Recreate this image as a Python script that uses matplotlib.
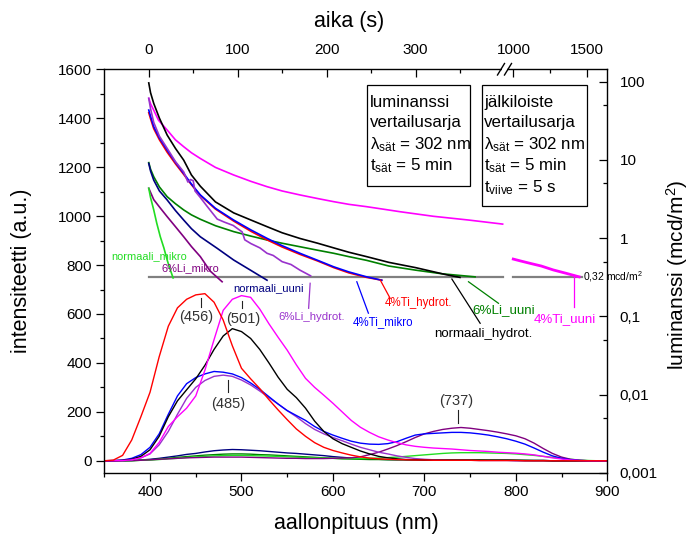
import numpy as np
import matplotlib
matplotlib.use("Agg")
import matplotlib.pyplot as plt
from matplotlib.patches import Rectangle
from matplotlib.lines import Line2D
from matplotlib.ticker import FixedLocator, NullFormatter

plt.rcParams['font.family'] = ['Liberation Sans', 'DejaVu Sans']
plt.rcParams['mathtext.fontset'] = 'custom'
plt.rcParams['mathtext.rm'] = 'Liberation Sans'
plt.rcParams['mathtext.it'] = 'Liberation Sans:italic'
plt.rcParams['mathtext.bf'] = 'Liberation Sans:bold'

# ---------------- emission spectra (intensity, a.u.) ----------------
wavelength = list(range(350, 901, 10))

spec_4ti_hydrot = [0, 3, 22, 85, 180, 280, 425, 550, 625, 660, 678, 683, 648, 575, 470, 378, 335, 295, 250, 208,
                   168, 130, 100, 74, 55, 42, 32, 23, 16, 11, 8, 6, 5, 4, 3, 3, 2, 2, 2, 2,
                   2, 1, 1, 1, 1, 1, 0, 0, 0, 0, 0, 0, 0, 0, 0, 0]
spec_4ti_uuni = [0, 0, 1, 4, 12, 30, 75, 140, 180, 215, 265, 370, 495, 615, 660, 675, 668, 620, 560, 505,
                 452, 392, 337, 300, 268, 235, 200, 165, 137, 116, 98, 85, 74, 65, 59, 55, 52, 50, 48, 45,
                 42, 40, 38, 35, 33, 31, 28, 24, 18, 12, 7, 3, 1, 0, 0, 0]
spec_norm_hydrot = [0, 0, 2, 6, 18, 45, 100, 180, 245, 290, 335, 390, 455, 510, 540, 528, 500, 455, 400, 342,
                    292, 258, 215, 162, 120, 90, 70, 55, 40, 28, 18, 12, 8, 5, 4, 3, 2, 2, 2, 2,
                    2, 2, 2, 2, 2, 2, 1, 1, 1, 0, 0, 0, 0, 0, 0, 0]
spec_4ti_mikro = [0, 1, 3, 10, 25, 55, 110, 190, 265, 315, 340, 355, 365, 362, 355, 340, 318, 292, 262, 232,
                  205, 185, 165, 140, 120, 105, 92, 80, 72, 68, 67, 70, 78, 92, 105, 110, 112, 114, 116, 116,
                  114, 110, 105, 98, 90, 80, 68, 52, 35, 20, 10, 4, 1, 0, 0, 0]
spec_6li_hydrot = [0, 0, 1, 4, 12, 28, 65, 120, 190, 255, 300, 328, 345, 350, 345, 330, 310, 285, 258, 232,
                   205, 180, 152, 128, 110, 95, 82, 68, 55, 45, 35, 28, 20, 14, 9, 6, 4, 3, 2, 2,
                   2, 1, 1, 1, 1, 0, 0, 0, 0, 0, 0, 0, 0, 0, 0, 0]
spec_6li_mikro = [0, 0, 0, 1, 2, 4, 6, 8, 10, 12, 13, 14, 15, 15, 15, 15, 14, 13, 12, 11,
                  10, 10, 9, 9, 9, 10, 11, 12, 16, 25, 35, 48, 62, 78, 95, 110, 120, 128, 133, 136,
                  133, 128, 123, 117, 110, 102, 90, 72, 50, 30, 15, 6, 2, 0, 0, 0]
spec_norm_uuni = [0, 0, 0, 1, 3, 6, 10, 15, 20, 26, 30, 36, 41, 44, 46, 45, 43, 41, 38, 35,
                  32, 30, 27, 24, 21, 17, 14, 11, 9, 7, 6, 5, 4, 4, 4, 3, 3, 3, 3, 3,
                  3, 2, 2, 2, 2, 1, 1, 1, 1, 0, 0, 0, 0, 0, 0, 0]
spec_6li_uuni = [0, 0, 0, 0, 2, 4, 7, 10, 14, 17, 20, 23, 25, 27, 28, 28, 27, 25, 24, 22,
                 20, 18, 16, 14, 12, 10, 8, 7, 6, 5, 5, 4, 4, 4, 4, 4, 4, 4, 4, 4,
                 4, 4, 3, 3, 3, 2, 2, 1, 1, 0, 0, 0, 0, 0, 0, 0]
spec_norm_mikro = [0, 0, 0, 1, 2, 3, 5, 8, 10, 13, 16, 18, 20, 21, 22, 22, 21, 20, 19, 18,
                   16, 15, 13, 12, 11, 10, 9, 9, 9, 10, 11, 13, 15, 18, 21, 24, 27, 30, 32, 33,
                   33, 33, 32, 31, 30, 28, 25, 22, 18, 14, 10, 6, 3, 1, 0, 0]

# peak positions marked in the spectra
peak_nm = [456, 501, 485, 737]
peak_labels = ['(456)', '(501)', '(485)', '(737)']

# ---------------- afterglow decay (luminance, mcd/m^2) ----------------
t_4ti_uuni_a = [0, 2, 5.6, 11, 20.7, 30, 39.3, 48, 58, 75, 95.5, 115, 133, 150, 170, 190, 208, 225, 245,
                265, 283, 320, 360, 398]
L_4ti_uuni_a = [61, 52, 43, 32, 24, 18, 14.7, 12.3, 10.4, 8.0, 6.4, 5.3, 4.54, 4.0, 3.56, 3.2, 2.92, 2.7, 2.52,
                2.33, 2.17, 1.9, 1.7, 1.51]
t_4ti_uuni_b = [990, 1050, 1114, 1190, 1272, 1360, 1448]
L_4ti_uuni_b = [0.54, 0.51, 0.476, 0.44, 0.392, 0.355, 0.32]

t_norm_hydrot = [0, 2, 5.6, 12, 20.7, 30, 39.3, 48, 58, 75, 95.5, 115, 133, 150, 170, 190, 208, 225, 245,
                 270, 300, 335, 350]
L_norm_hydrot = [96, 72, 52.5, 34, 20.7, 14, 9.9, 6.4, 4.6, 2.9, 2.1, 1.7, 1.40, 1.17, 0.99, 0.86, 0.75, 0.66,
                 0.58, 0.49, 0.42, 0.34, 0.315]

t_6li_uuni = [0, 2, 5.6, 12, 20.7, 30, 39.3, 48, 58, 75, 95.5, 115, 133, 150, 170, 190, 208, 225, 245, 270,
              300, 330, 367]
L_6li_uuni = [9.2, 7.6, 6.08, 4.5, 3.38, 2.75, 2.29, 1.98, 1.74, 1.44, 1.21, 1.06, 0.946, 0.86, 0.776, 0.70,
              0.64, 0.58, 0.52, 0.44, 0.39, 0.35, 0.32]

t_4ti_mikro = [0, 2, 5.6, 12, 20.7, 30, 39.3, 48, 58, 75, 95.5, 115, 133, 150, 170, 190, 208, 225, 245, 262]
L_4ti_mikro = [43.2, 36, 26.5, 19, 13.3, 9.3, 6.71, 4.9, 3.56, 2.4, 1.70, 1.27, 0.993, 0.80, 0.64, 0.52, 0.43,
               0.37, 0.32, 0.29]

t_4ti_hydrot = [0, 2, 5.6, 12, 20.7, 30, 39.3, 48, 58, 75, 95.5, 115, 133, 150, 170, 190, 208, 225, 245, 262]
L_4ti_hydrot = [40, 33.5, 25, 18, 12.5, 8.9, 6.5, 4.8, 3.5, 2.35, 1.65, 1.22, 0.95, 0.77, 0.62, 0.51, 0.42,
                0.36, 0.315, 0.29]

t_6li_hydrot = [0, 2, 5.6, 12, 20.7, 30, 39.3, 44, 47, 50, 52, 58, 65, 77, 85, 95, 105, 108, 115, 125, 133,
                140, 150, 160, 170, 182]
L_6li_hydrot = [61, 45, 30, 20, 14, 9.5, 7.0, 5.2, 5.6, 5.4, 4.0, 3.3, 2.6, 1.75, 1.6, 1.45, 1.2, 0.95, 0.85,
                0.75, 0.64, 0.6, 0.5, 0.46, 0.39, 0.33]

t_norm_uuni = [0, 2, 5.6, 12, 20.7, 30, 39.3, 48, 58, 77, 95.5, 114, 133]
L_norm_uuni = [9.0, 7.2, 5.5, 4.0, 3.07, 2.25, 1.70, 1.32, 1.04, 0.74, 0.525, 0.392, 0.29]

t_norm_mikro = [0, 2, 5.6, 9, 13, 17, 20.7, 24, 27.4]
L_norm_mikro = [4.33, 3.3, 2.29, 1.55, 1.04, 0.75, 0.525, 0.40, 0.31]

t_6li_mikro = [0, 5.6, 12, 20.7, 30, 39.3, 48, 58, 69, 82.5]
L_6li_mikro = [4.33, 3.1, 2.5, 1.88, 1.4, 1.04, 0.78, 0.58, 0.38, 0.277]

threshold = 0.32
t_thr_a = [0, 398]
t_thr_b = [990, 1470]

# colours
C_RED, C_MAG, C_BLK, C_BLU = '#ff0000', '#ff00ff', '#000000', '#0000ff'
C_VIO, C_PUR, C_NAV = '#9932cc', '#800080', '#000080'
C_DGR, C_LGR = '#008000', '#22dd22'

# ---------------- figure ----------------
W, H = 691, 537
fig = plt.figure(figsize=(W / 100, H / 100), dpi=100)
X0, X1, Y0, Y1 = 104.3, 607.3, 473.0, 69.3   # axes box in pixels
rect = [X0 / W, 1 - Y0 / H, (X1 - X0) / W, (Y0 - Y1) / H]


def ax_frac(px, py):
    return (px - X0) / (X1 - X0), (Y0 - py) / (Y0 - Y1)


ax = fig.add_axes(rect)
ax.set_xlim(350, 900)
ax.set_ylim(-50, 1600)

for y, c in [(spec_norm_uuni, C_NAV), (spec_6li_uuni, C_DGR), (spec_norm_mikro, C_LGR),
             (spec_6li_mikro, C_PUR), (spec_6li_hydrot, C_VIO), (spec_4ti_mikro, C_BLU),
             (spec_norm_hydrot, C_BLK), (spec_4ti_uuni, C_MAG), (spec_4ti_hydrot, C_RED)]:
    ax.plot(wavelength, y, color=c, lw=1.0)

# peak annotations
peak_text_y = [586, 580, 233, 244]
peak_line = [(630, 664), (624, 651), (281, 330), (154, 207)]
peak_text_x = [451, 502, 485, 735]
for nm, lab, tx, ty, (l0, l1) in zip(peak_nm, peak_labels, peak_text_x, peak_text_y, peak_line):
    ax.plot([nm, nm], [l0, l1], color='#222222', lw=0.8)
    ax.text(tx, ty, lab, ha='center', va='center', fontsize=10.5, color='#333333')

ax.xaxis.set_major_locator(FixedLocator([400, 500, 600, 700, 800, 900]))
ax.xaxis.set_minor_locator(FixedLocator([350, 450, 550, 650, 750, 850]))
ax.yaxis.set_major_locator(FixedLocator(list(range(0, 1601, 200))))
ax.yaxis.set_minor_locator(FixedLocator(list(range(100, 1600, 200))))
ax.tick_params(which='both', direction='out', labelsize=11, width=0.9, top=False, right=False)
ax.tick_params(which='major', length=5.5)
ax.tick_params(which='minor', length=3)
ax.spines['top'].set_visible(False)
ax.spines['right'].set_visible(False)
for s in ax.spines.values():
    s.set_linewidth(1.0)

# ---------------- decay axes: broken time axis on top, log luminance on right ----------------
U_BREAK, U_1000, K_TAIL = 400.0, 410.1, 0.165


def t_fwd(t):
    t = np.asarray(t, dtype=float)
    mid = U_BREAK + (t - U_BREAK) * (U_1000 - U_BREAK) / (1000.0 - U_BREAK)
    tail = U_1000 + (t - 1000.0) * K_TAIL
    return np.where(t <= U_BREAK, t, np.where(t <= 1000.0, mid, tail))


def t_inv(u):
    u = np.asarray(u, dtype=float)
    mid = U_BREAK + (u - U_BREAK) * (1000.0 - U_BREAK) / (U_1000 - U_BREAK)
    tail = 1000.0 + (u - U_1000) / K_TAIL
    return np.where(u <= U_BREAK, u, np.where(u <= U_1000, mid, tail))


axd = fig.add_axes(rect)
axd.patch.set_alpha(0)
axd.set_xscale('function', functions=(t_fwd, t_inv))
axd.set_yscale('log')
axd.set_xlim(-50, 1640)
axd.set_ylim(1e-3, 10 ** 2.156)

lw_d = 1.2
axd.plot(t_thr_a, [threshold, threshold], color='#808080', lw=1.6, zorder=1)
axd.plot(t_thr_b, [threshold, threshold], color='#808080', lw=1.6, zorder=1)
axd.plot(t_4ti_uuni_a, L_4ti_uuni_a, color=C_MAG, lw=lw_d)
axd.plot(t_4ti_uuni_b, L_4ti_uuni_b, color=C_MAG, lw=2.0)
axd.plot(t_6li_uuni, L_6li_uuni, color=C_DGR, lw=lw_d)
axd.plot(t_norm_hydrot, L_norm_hydrot, color=C_BLK, lw=lw_d)
axd.plot(t_4ti_hydrot, L_4ti_hydrot, color=C_RED, lw=lw_d)
axd.plot(t_4ti_mikro, L_4ti_mikro, color=C_BLU, lw=lw_d)
axd.plot(t_6li_hydrot, L_6li_hydrot, color=C_VIO, lw=lw_d)
axd.plot(t_norm_uuni, L_norm_uuni, color=C_NAV, lw=lw_d)
axd.plot(t_6li_mikro, L_6li_mikro, color=C_PUR, lw=lw_d)
axd.plot(t_norm_mikro, L_norm_mikro, color=C_LGR, lw=lw_d)

# curve labels with leader lines (time, luminance)
labels = [
    ('normaali_mikro', C_LGR, 7.9, (0.8, 0.59), None),
    ('6%Li_mikro', C_PUR, 7.9, (47, 0.415), None),
    ('normaali_uuni', C_NAV, 8.0, (134.5, 0.23), None),
    ('6%Li_hydrot.', C_VIO, 8.2, (183.6, 0.0975), ((181.5, 0.265), (179.8, 0.127))),
    ('4%Ti_mikro', C_BLU, 8.3, (264, 0.0855), ((234, 0.277), (247, 0.11))),
    ('4%Ti_hydrot.', C_RED, 8.3, (303.4, 0.147), ((260.3, 0.292), (271.5, 0.17))),
    ('normaali_hydrot.', C_BLK, 9.5, (376.4, 0.0596), ((340.9, 0.30), (372.7, 0.0817))),
    ('6%Li_uuni', C_DGR, 9.6, (398.9, 0.121), ((359.6, 0.277), (393.3, 0.147))),
    ('4%Ti_uuni', C_MAG, 9.5, (1352, 0.0918), ((1415, 0.338), (1415, 0.131))),
]
for text, col, fs, (tx, ty), lead in labels:
    if lead is not None:
        axd.plot([lead[0][0], lead[1][0]], [lead[0][1], lead[1][1]], color=col, lw=0.9)
    axd.text(tx, ty, text, color=col, fontsize=fs, ha='center', va='center')

axd.text(1471, threshold, '0,32 mcd/m$^2$', fontsize=7.5, ha='left', va='center')

axd.xaxis.set_ticks_position('top')
axd.yaxis.set_ticks_position('right')
axd.xaxis.set_major_locator(FixedLocator([0, 100, 200, 300, 1000, 1500]))
axd.xaxis.set_minor_locator(FixedLocator([50, 150, 250, 350, 1250]))
axd.set_xticklabels(['0', '100', '200', '300', '1000', '1500'])
axd.xaxis.set_minor_formatter(NullFormatter())
axd.yaxis.set_major_locator(FixedLocator([1e-3, 1e-2, 1e-1, 1, 10, 100]))
axd.yaxis.set_minor_locator(FixedLocator([5e-3, 5e-2, 5e-1, 5, 50]))
axd.set_yticklabels(['0,001', '0,01', '0,1', '1', '10', '100'])
axd.yaxis.set_minor_formatter(NullFormatter())
axd.tick_params(which='both', direction='in', labelsize=11, width=0.9, bottom=False, left=False)
axd.tick_params(which='major', length=5.5, pad=9)
axd.tick_params(which='minor', length=3)
axd.spines['bottom'].set_visible(False)
axd.spines['left'].set_visible(False)
for s in axd.spines.values():
    s.set_linewidth(1.0)

# break marks on the time axis
bx0, by0 = ax_frac(497.5, 75)
bx1, by1 = ax_frac(504.5, 63.5)
cx0, cy0 = ax_frac(504.5, 75)
cx1, cy1 = ax_frac(511.5, 63.5)
gx, gy = ax_frac(502, 71)
gx2, _ = ax_frac(507, 71)
axd.add_patch(Rectangle((gx, gy), gx2 - gx, (Y0 - 67) / (Y0 - Y1) - gy, transform=axd.transAxes,
                        facecolor='white', edgecolor='none', clip_on=False, zorder=5))
for (a0, b0, a1, b1) in [(bx0, by0, bx1, by1), (cx0, cy0, cx1, cy1)]:
    axd.add_line(Line2D([a0, a1], [b0, b1], transform=axd.transAxes, color='black', lw=1.0,
                        clip_on=False, zorder=6))

# parameter boxes
for (px0, py0, px1, py1) in [(367.3, 85, 470, 186), (481.7, 85, 587.3, 206)]:
    fx0, fy1 = ax_frac(px0, py1)
    fx1, fy0 = ax_frac(px1, py0)
    ax.add_patch(Rectangle((fx0, fy1), fx1 - fx0, fy0 - fy1, transform=ax.transAxes,
                           facecolor='white', edgecolor='black', lw=0.9, zorder=4))

box1 = ['luminanssi', 'vertailusarja', r'λ$_\mathregular{sät}$ = 302 nm', r't$_\mathregular{sät}$ = 5 min']
box2 = ['jälkiloiste', 'vertailusarja', r'λ$_\mathregular{sät}$ = 302 nm', r't$_\mathregular{sät}$ = 5 min',
        r't$_\mathregular{viive}$ = 5 s']
baselines = [107, 127.5, 149, 170.7, 192.5]
for lines, px in [(box1, 370), (box2, 484)]:
    for line, py in zip(lines, baselines):
        fx, fy = ax_frac(px, py)
        ax.text(fx, fy, line, transform=ax.transAxes, fontsize=12.2, ha='left', va='baseline', zorder=5)

# axis titles
fig.text(22 / W, 1 - 271 / H, 'intensiteetti (a.u.)', rotation=90, ha='center', va='center', fontsize=15.5)
fig.text(677 / W, 1 - 275 / H, 'luminanssi (mcd/m$^\\mathregular{2}$)', rotation=90, ha='center',
         va='center', fontsize=15)
fig.text(356 / W, 1 - 524 / H, 'aallonpituus (nm)', ha='center', va='center', fontsize=15.5)
fig.text(349 / W, 1 - 21 / H, 'aika (s)', ha='center', va='center', fontsize=15.5)

fig.savefig('out.png', dpi=100)
